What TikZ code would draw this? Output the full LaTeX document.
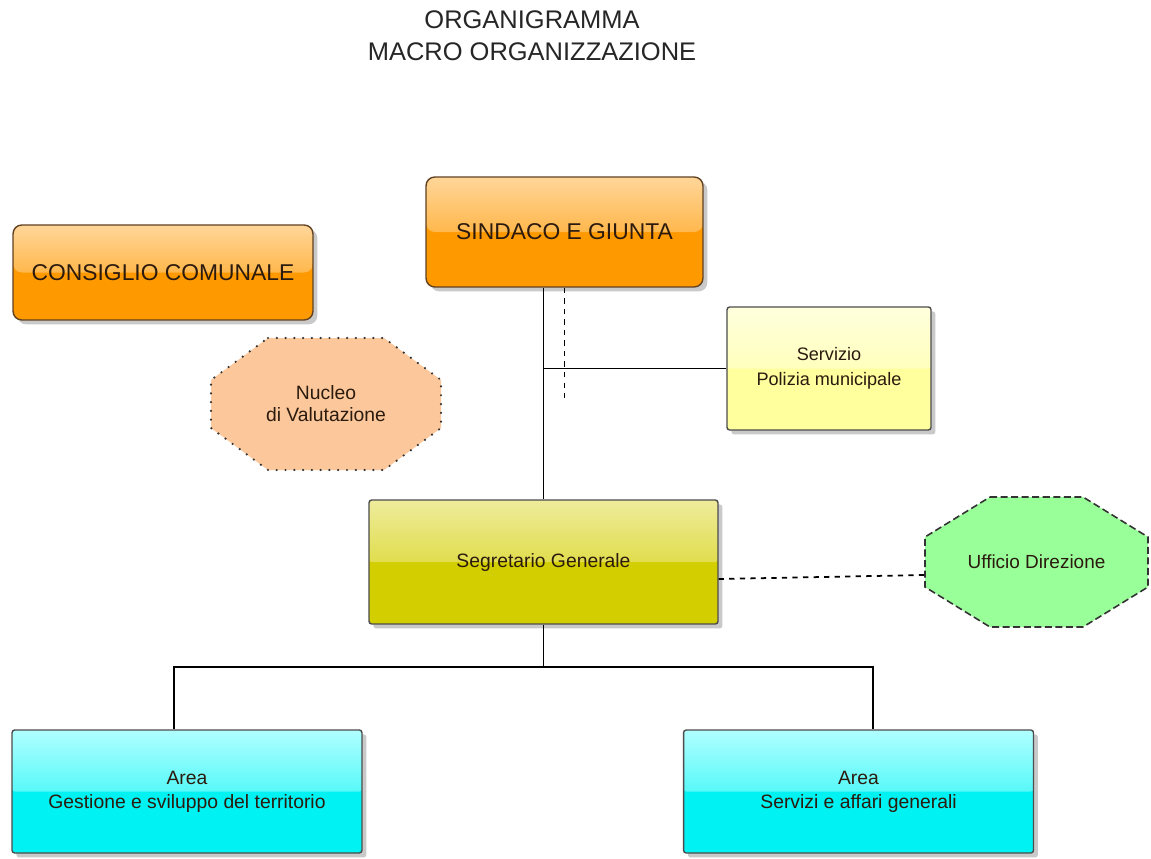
\documentclass[tikz,border=0pt]{standalone}
\usepackage{fontspec}
\setmainfont{Liberation Sans}
\usetikzlibrary{shadows}

\definecolor{orangetop}{HTML}{FFD699}
\definecolor{orangebot}{HTML}{FF9900}
\definecolor{poltop}{HTML}{FFFFDD}
\definecolor{polbot}{HTML}{FFFF9E}
\definecolor{segtop}{HTML}{EEEC9C}
\definecolor{segbot}{HTML}{D3CE00}
\definecolor{areatop}{HTML}{B0FFFF}
\definecolor{areabot}{HTML}{00F2F2}
\definecolor{nucleofill}{HTML}{FCC89B}
\definecolor{ufficiofill}{HTML}{99FF99}
\definecolor{scritta}{HTML}{2B1A0E}

\tikzset{
  glossy/.style 2 args={fill=#2, path picture={
      \shade[top color=#1, bottom color=#2]
        (path picture bounding box.north west) rectangle (path picture bounding box.east);}},
  orgbox/.style={draw=black!70, line width=0.8pt, rounded corners=1.5pt, align=center,
      text=scritta, drop shadow={shadow xshift=2.5pt, shadow yshift=-2.5pt,
      opacity=0.3, fill=black!70}},
  topbox/.style={orgbox, draw=brown!50!black, rounded corners=5pt,
      font=\fontsize{13}{15}\selectfont, glossy={orangetop}{orangebot}},
  areabox/.style={orgbox, minimum width=7cm, minimum height=2.46cm,
      font=\fontsize{11}{13.6}\selectfont, glossy={areatop}{areabot}},
  octline/.style={line width=0.9pt, draw=black!80},
  link/.style={line width=1pt},
}

\begin{document}
\begin{tikzpicture}[x=0.02cm, y=-0.02cm]
  \useasboundingbox (0,0) rectangle (1151,858);
  % titolo
  \node[align=center, font=\fontsize{14.5}{18}\selectfont, text=black!85] (titolo) at (532,36)
    {ORGANIGRAMMA\\MACRO ORGANIZZAZIONE};
  % organi
  \node[topbox, minimum width=5.54cm, minimum height=2.2cm] (sindaco) at (564.5,232) {SINDACO E GIUNTA};
  \node[topbox, minimum width=6cm, minimum height=1.9cm] (consiglio) at (163,272.5) {CONSIGLIO COMUNALE};
  \node[orgbox, minimum width=4.08cm, minimum height=2.46cm, font=\fontsize{10.3}{14.2}\selectfont,
    glossy={poltop}{polbot}] (polizia) at (829,368.5) {Servizio\\Polizia municipale};
  \node[orgbox, minimum width=6.98cm, minimum height=2.48cm, font=\fontsize{11}{13}\selectfont,
    glossy={segtop}{segbot}] (segretario) at (543.5,562) {Segretario Generale};
  \node[areabox] (area1) at (187,791.5) {Area\\Gestione e sviluppo del territorio};
  \node[areabox] (area2) at (858.5,791.5) {Area\\Servizi e affari generali};
  % ottagoni
  \draw[octline, fill=nucleofill, line cap=round, line width=1.4pt, dash pattern=on 0pt off 5pt]
    (268,338) -- (384,338) -- (441,380) -- (441,428) -- (384,470) -- (268,470)
    -- (211,428) -- (211,380) -- cycle;
  \node[align=center, font=\fontsize{11}{12.5}\selectfont, text=scritta] (nucleo) at (326,404) {Nucleo\\di Valutazione};
  \draw[octline, fill=ufficiofill, dash pattern=on 4pt off 2pt]
    (990,497) -- (1083,497) -- (1148,537) -- (1148,587) -- (1083,627) -- (990,627)
    -- (925,587) -- (925,537) -- cycle;
  \node[font=\fontsize{10.8}{13}\selectfont, text=scritta] (ufficio) at (1036.5,562) {Ufficio Direzione};
  % collegamenti
  \coordinate (dashend) at (565,402);
  \coordinate (fork) at (543.5,667);
  \coordinate (uffwest) at (925,575);
  \draw[link] (sindaco.south -| segretario.north) -- (segretario.north);
  \draw[link, dashed] (sindaco.south) -- (sindaco.south |- dashend);
  \draw[link] (polizia.west) -- (polizia.west -| segretario.north);
  \draw[link] (segretario.south) -- (fork);
  \draw[link] (fork) -| ([xshift=-0.26cm]area1.north);
  \draw[link] (fork) -| ([xshift=0.29cm]area2.north);
  \draw[link, dashed] ([yshift=-0.34cm]segretario.east) -- (uffwest);
\end{tikzpicture}
\end{document}
